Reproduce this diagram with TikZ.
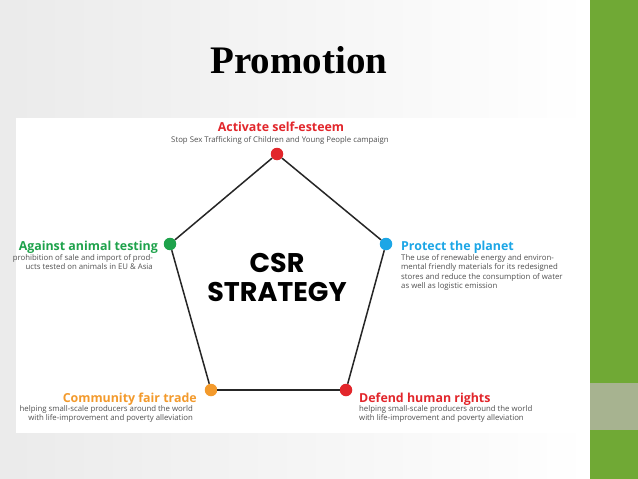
\documentclass[tikz,border=0pt]{standalone}
\usepackage{fontspec}
\setmainfont{Liberation Serif}
\newfontfamily\labelfont{Open Sans}
\newfontfamily\csrfont{Poppins}
\usetikzlibrary{positioning}
\definecolor{slidegreen}{HTML}{70A935}
\definecolor{slidegray}{HTML}{A7B390}
\definecolor{csrred}{HTML}{E2262B}
\definecolor{csrgreen}{HTML}{1EA24B}
\definecolor{csrblue}{HTML}{1CA6E6}
\definecolor{csrorange}{HTML}{F39A2C}
\definecolor{subgray}{HTML}{505050}

\begin{document}
\begin{tikzpicture}[x=1pt,y=-1pt,
    dot/.style={circle,fill=#1,inner sep=0pt,minimum size=12.5pt},
    head/.style={text=#1,inner sep=0pt,font=\labelfont\bfseries\fontsize{12.4}{12.4}\selectfont},
    sub/.style={text=subgray,inner sep=0pt,font=\labelfont\fontsize{7.8}{9.6}\selectfont}]
    \useasboundingbox (0,0) rectangle (638,479);
    % slide background
    \fill[left color=black!8,right color=white] (0,0) rectangle (590,479);
    \fill[white] (16,118) rectangle (585,433);
    \fill[slidegreen] (590,0) rectangle (638,479);
    \fill[slidegray] (590,383) rectangle (638,430);

    \node[font=\bfseries\fontsize{39}{39}\selectfont,anchor=base] (title) at (299,73) {Promotion};

    \node[dot=csrred] (vA) at (277,154) {};
    \node[dot=csrgreen] (vB) at (170,244) {};
    \node[dot=csrblue] (vC) at (386,244) {};
    \node[dot=csrorange] (vD) at (211,390) {};
    \node[dot=csrred] (vE) at (346,390) {};

    \draw[line width=1.5pt,black!85] (vA) -- (vC);
    \draw[line width=1.5pt,black!85] (vC) -- (vE);
    \draw[line width=1.5pt,black!85] (vE) -- (vD);
    \draw[line width=1.5pt,black!85] (vD) -- (vB);
    \draw[line width=1.5pt,black!85] (vB) -- (vA);

    \node[font=\csrfont\bfseries\fontsize{27}{29}\selectfont,align=center] (csr) at (277,277) {CSR\\STRATEGY};

    \node[head=csrred,anchor=base] (hA) at (281,131) {Activate self-esteem};
    \node[sub,anchor=base] (sA) at (280,142) {Stop Sex Trafficking of Children and Young People campaign};

    \node[head=csrgreen,anchor=base east] (hB) at (158,250) {Against animal testing};
    \node[sub,anchor=north east,align=right] (sB) at (153,254) {prohibition of sale and import of prod-\\ucts tested on animals in EU \& Asia};

    \node[head=csrblue,anchor=base west] (hC) at (401,250) {Protect the planet};
    \node[sub,anchor=north west,align=left] (sC) at (401,254) {The use of renewable energy and environ-\\mental friendly materials for its redesigned\\stores and reduce the consumption of water\\as well as logistic emission};

    \node[head=csrorange,anchor=base east] (hD) at (197,402) {Community fair trade};
    \node[sub,anchor=north east,align=right] (sD) at (193,405) {helping small-scale producers around the world\\with life-improvement and poverty alleviation};

    \node[head=csrred,anchor=base west] (hE) at (359,402) {Defend human rights};
    \node[sub,anchor=north west,align=left] (sE) at (359,405) {helping small-scale producers around the world\\with life-improvement and poverty alleviation};
\end{tikzpicture}
\end{document}
